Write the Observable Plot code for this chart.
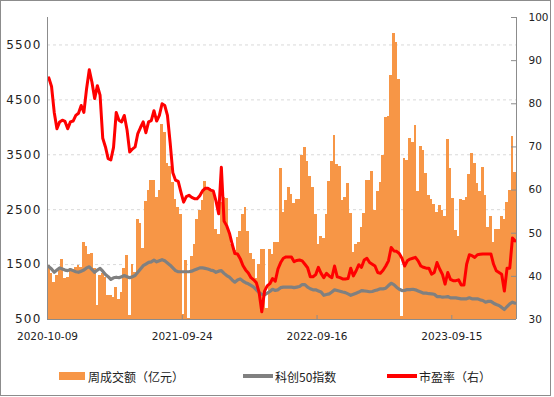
<!DOCTYPE html>
<html>
<head>
<meta charset="utf-8">
<script src="https://cdn.jsdelivr.net/npm/d3@7"></script>
<script src="https://cdn.jsdelivr.net/npm/@observablehq/plot@0.6"></script>
<style>
  html, body { margin: 0; padding: 0; background: #fff; }
  #wrap { position: relative; width: 554px; height: 397px; overflow: hidden; }
  #frame { position: absolute; left: 0; top: 0; width: 551px; height: 396px; box-sizing: border-box; border: 1px solid #8c8c8c; pointer-events: none; }
  #chart { position: absolute; left: 0; top: 0; }
  #legend { position: absolute; left: 0; top: 366px; width: 554px; height: 20px; font-family: "Noto Sans CJK SC", sans-serif; font-size: 12px; color: #222; }
  .item { position: absolute; top: 0; height: 20px; display: flex; align-items: center; white-space: nowrap; }
  .sw-rect { width: 26px; height: 8px; margin-right: 3px; }
  .sw-line { width: 30px; height: 4px; margin-right: 2px; }
</style>
</head>
<body>
<div id="wrap">
  <div id="chart"></div>
  <div id="legend"></div>
  <div id="frame"></div>
</div>
<script>
// ---- data (weekly, category index 0..173) ----
const xTickIdx = [0, 50, 100, 150];
const xTickLabels = ["2020-10-09", "2021-09-24", "2022-09-16", "2023-09-15"];
const leftTicks = [500, 1500, 2500, 3500, 4500, 5500];
const gridTicks = [1500, 2500, 3500, 4500, 5500];
const peTicks = [30, 40, 50, 60, 70, 80, 90, 100];
const seriesNames = ["周成交额（亿元）", "科创50指数", "市盈率（右）"];

// 周成交额（亿元）
const volume = [
 1480,1330,1180,1300,1390,1600,1250,1270,1420,1410,
 1450,1480,1450,1910,1830,1680,1700,1420,760,1300,
 1330,1270,940,940,900,1090,860,1000,1420,1660,
 570,1500,1350,2320,2250,1800,2650,2850,3030,3030,
 2720,2850,4060,3900,3340,3280,3000,2690,2540,2420,
 600,1570,520,1650,1860,2330,2480,2660,3010,2900,
 2880,2850,2140,2050,2630,2720,2700,2050,1870,1750,
 2000,2110,2420,2540,2100,1700,1600,1250,1500,1770,
 1770,700,1770,1690,1900,1900,3250,2450,2670,2900,
 2780,2610,2690,2690,3490,3630,3380,3110,2900,2420,
 1870,2010,1970,2420,3020,3380,3860,3320,3290,2670,
 2730,2970,2430,1720,1870,1900,2180,2430,3040,3040,
 3190,2490,2830,2990,3490,4170,4200,4950,5700,5540,
 4870,550,3430,3400,3790,3730,4030,2830,3650,3580,
 3150,2750,2690,2600,2450,2580,2490,2370,3770,3250,
 2700,2120,2010,2690,2670,2720,3140,3520,3340,2980,
 2830,3260,2750,2170,2370,1900,2140,2140,2380,2320,
 2630,2850,3830,3170
];

// 科创50指数
const indexVals = [
 1464,1420,1360,1400,1440,1420,1400,1390,1410,1390,
 1370,1360,1380,1400,1440,1460,1410,1360,1400,1430,
 1380,1320,1280,1230,1260,1270,1260,1280,1300,1280,
 1260,1280,1300,1360,1420,1480,1510,1540,1550,1580,
 1550,1570,1590,1570,1530,1490,1440,1390,1370,1370,
 1370,1370,1370,1380,1400,1420,1440,1440,1430,1420,
 1400,1390,1360,1380,1390,1340,1300,1270,1220,1180,
 1220,1240,1200,1170,1150,1120,1090,1040,990,960,
 950,980,1010,1050,1030,1040,1080,1090,1090,1090,
 1090,1080,1090,1100,1136,1136,1090,1060,1040,1040,
 1020,1000,940,955,967,1000,1040,1027,1015,1000,
 990,967,940,960,980,1000,1027,1020,1015,1005,
 1010,1027,1040,1058,1058,1070,1118,1160,1136,1088,
 1050,1027,1030,1045,1045,1051,1040,1020,1000,980,
 980,970,967,960,918,918,906,910,918,894,
 894,894,885,876,876,876,894,876,876,876,
 858,846,815,830,830,797,773,755,720,682,
 736,785,815,797
];

// 市盈率（右）
const pe = [
 86,84,78,74.2,75.8,76.2,75.9,74.2,75.8,76,
 77.3,77.8,79.6,78,83.5,87.9,85,81.2,84.2,82,
 72,70,67.3,67,69.9,78,76.2,75.8,77.3,74,
 68.8,69.5,70,73.1,74.5,75.8,73.3,75.8,76.1,78.4,
 76,77.3,80,79.6,77.3,71,64,62.3,62,59.5,
 57.2,58.5,58.8,58.3,58,58,58.7,59.8,60.4,60.4,
 60,59.8,57.5,54.5,65.3,52.8,51.7,50,47.5,45.3,
 45.2,44.1,42.5,41.5,40.8,39.7,39.2,38.5,36.3,31.8,
 36.5,37.8,38.3,39.5,38.9,41.7,43.2,44.2,44.5,44.5,
 44.5,43.4,43.7,43.8,43.6,42.8,42,39.9,39.9,40.4,
 42.1,40.7,39.7,40.7,40.1,39.7,42.4,39.9,39.7,39.4,
 39.4,39.5,41.9,40.1,41.3,42.7,42.1,43.8,44.2,43.2,
 42.8,42.4,40.9,40.7,41.4,42.4,43.6,46.7,45.9,45.8,
 45.3,44.2,42.4,43.6,44,44.2,44.4,43.6,42.4,42.1,
 41.9,41.9,40.5,40.9,43.2,41.7,40.5,38.2,40.9,39.3,
 39,39,39.2,38,38,42.8,45,44.8,44.4,45,
 45.1,45.2,45.2,45.2,45.2,42.8,41.3,40.9,40.5,36.6,
 41.9,41.9,48.9,48.2
];

// ---- chart ----
const N = volume.length;
const yMin = 500, yMax = 6000, peMin = 30, peMax = 100;
const peToY = p => yMin + (p - peMin) * (yMax - yMin) / (peMax - peMin);
const yToPe = y => Math.round(peMin + (y - yMin) * (peMax - peMin) / (yMax - yMin));

const rows = volume.map((v, i) => ({i, v, idx: indexVals[i], pe: pe[i]}));

const W = 554, H = 352, mT = 17, mL = 47, mR = 38, mB = 33;
const axisColor = "#8c8c8c";

const chart = Plot.plot({
  width: W, height: H,
  marginTop: mT, marginLeft: mL, marginRight: mR, marginBottom: mB,
  style: {fontFamily: "DejaVu Sans", fontSize: "10.5px", color: "#222", background: "transparent"},
  x: {domain: [0, N], label: null},
  y: {domain: [yMin, yMax], label: null},
  marks: [
    Plot.ruleY(gridTicks, {stroke: "#d9d9d9", strokeDasharray: "3,3"}),
    Plot.rectY(rows, {x1: "i", x2: d => d.i + 1, y1: yMin, y2: "v", fill: "#f79646", inset: 0, shapeRendering: "crispEdges"}),
    Plot.lineY(rows, {x: d => d.i + 0.5, y: "idx", stroke: "#808080", strokeWidth: 3.2, strokeLinejoin: "round"}),
    Plot.lineY(rows, {x: d => d.i + 0.5, y: d => peToY(d.pe), stroke: "#ff0000", strokeWidth: 3, strokeLinejoin: "round"}),
    Plot.ruleX([0, N], {stroke: axisColor}),
    Plot.ruleY([yMin], {stroke: axisColor}),
    Plot.tickY(peTicks, {y: peToY, insetLeft: W - mL - mR - 5, stroke: axisColor}),
    Plot.tickX(xTickIdx, {x: d => d, insetTop: H - mT - mB - 4, stroke: axisColor}),
    Plot.axisY({anchor: "left", ticks: leftTicks, tickFormat: d3.format("d"), tickSize: 0, tickPadding: 6, fontSize: 12, label: null}),
    Plot.axisY({anchor: "right", ticks: peTicks.map(peToY), tickFormat: yToPe, tickSize: 0, tickPadding: 12, label: null}),
    Plot.axisX({ticks: xTickIdx, tickFormat: i => xTickLabels[xTickIdx.indexOf(i)], tickSize: 0, tickPadding: 13, label: null})
  ]
});
document.getElementById("chart").appendChild(chart);
// slightly wider spacing on left-axis labels
const yLabelGroups = chart.querySelectorAll('g[aria-label="y-axis tick label"]');
if (yLabelGroups.length) yLabelGroups[0].setAttribute("letter-spacing", "1.2");

// ---- legend ----
const legend = document.getElementById("legend");
const items = [
  {name: seriesNames[0], left: 59, kind: "rect", color: "#f79646"},
  {name: seriesNames[1], left: 243, kind: "line", color: "#808080"},
  {name: seriesNames[2], left: 387, kind: "line", color: "#ff0000"}
];
for (const it of items) {
  const d = document.createElement("div");
  d.className = "item";
  d.style.left = it.left + "px";
  const s = document.createElement("span");
  s.className = it.kind === "rect" ? "sw-rect" : "sw-line";
  s.style.background = it.color;
  const t = document.createElement("span");
  t.textContent = it.name;
  d.appendChild(s); d.appendChild(t);
  legend.appendChild(d);
}
</script>
</body>
</html>
